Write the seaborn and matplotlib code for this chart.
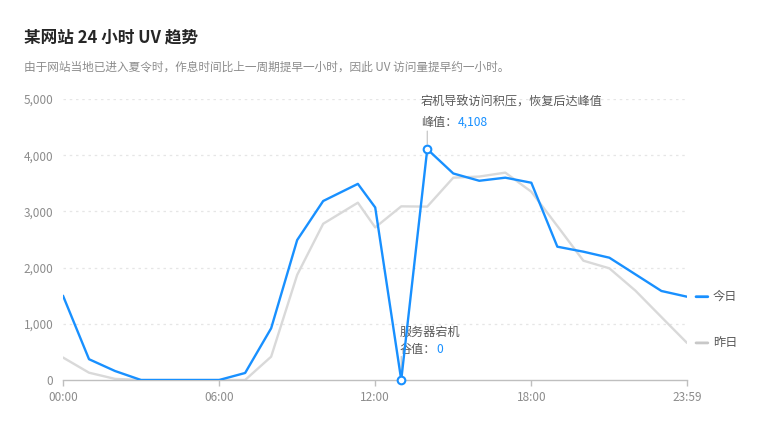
import numpy as np
import pandas as pd
import seaborn as sns
import matplotlib.pyplot as plt

# ---- data ----
times = ["00:00", "01:00", "02:00", "03:00", "04:00", "05:00", "06:00", "07:00",
         "08:00", "09:00", "10:00", "11:20", "12:00", "13:00", "14:00", "15:00",
         "16:00", "17:00", "18:00", "19:00", "20:00", "21:00", "22:00", "23:00", "23:59"]
today = [1500, 370, 160, 0, 0, 0, 0, 125, 920, 2490, 3185, 3490, 3070, 0, 4108,
         3675, 3545, 3600, 3510, 2372, 2283, 2176, 1880, 1584, 1482]
yesterday = [400, 130, 20, 0, 0, 0, 0, 0, 415, 1870, 2780, 3155, 2715, 3090, 3085,
             3600, 3620, 3690, 3350, 2740, 2123, 1987, 1590, 1120, 660]
series_names = ["今日", "昨日"]
x_ticks = ["00:00", "06:00", "12:00", "18:00", "23:59"]
y_ticks = [0, 1000, 2000, 3000, 4000, 5000]

title = "某网站 24 小时 UV 趋势"
subtitle = "由于网站当地已进入夏令时，作息时间比上一周期提早一小时，因此 UV 访问量提早约一小时。"
peak_note = "宕机导致访问积压，恢复后达峰值"
peak_label = "峰值："
low_note = "服务器宕机"
low_label = "谷值："

BLUE = "#1890ff"
GREY = "#d9d9d9"
TEXT = "#595959"
MUTED = "#8c8c8c"


def to_hours(t):
    h, m = t.split(":")
    return int(h) + int(m) / 60


hours = [to_hours(t) for t in times]
df = pd.concat([
    pd.DataFrame({"hour": hours, "uv": today, "series": series_names[0]}),
    pd.DataFrame({"hour": hours, "uv": yesterday, "series": series_names[1]}),
])

sns.set_theme(style="white")
plt.rcParams["font.family"] = ["Noto Sans CJK SC", "DejaVu Sans"]

fig = plt.figure(figsize=(7.6, 4.24), dpi=100)
ax = fig.add_axes([63 / 760, 1 - 380 / 424, 624 / 760, 281 / 424])

sns.lineplot(data=df, x="hour", y="uv", hue="series", hue_order=series_names[::-1],
             palette={series_names[0]: BLUE, series_names[1]: GREY},
             linewidth=1.7, legend=False, sort=False, ax=ax)
for ln in ax.lines:
    if ln.get_color() == BLUE:
        ln.set_zorder(4)

ax.set_xlim(hours[0], hours[-1])
ax.set_ylim(0, 5000)
ax.set_xticks([to_hours(t) for t in x_ticks])
ax.set_xticklabels(x_ticks)
ax.set_yticks(y_ticks)
ax.set_yticklabels([f"{v:,}" for v in y_ticks])
ax.set_xlabel("")
ax.set_ylabel("")

for v in y_ticks[1:]:
    ax.axhline(v, color="#e6e6e6", lw=0.9, ls=(0, (2, 3)), zorder=0)

for s in ["top", "right", "left"]:
    ax.spines[s].set_visible(False)
ax.spines["bottom"].set_color("#bfbfbf")
ax.spines["bottom"].set_linewidth(1)
ax.tick_params(axis="x", length=4, width=1, color="#bfbfbf", colors=MUTED,
               labelsize=8.5, pad=4, bottom=True)
ax.tick_params(axis="y", length=0, colors=MUTED, labelsize=8.5, pad=7)
for lbl in ax.get_xticklabels() + ax.get_yticklabels():
    lbl.set_color(MUTED)

# ---- annotations ----
i_peak = int(np.argmax(today))
i_low = i_peak - 1
for i in (i_peak, i_low):
    ax.plot(hours[i], today[i], marker="o", ms=5.5, mfc="white", mec=BLUE, mew=1.5,
            zorder=6, clip_on=False)

ax.annotate("", xy=(hours[i_peak], today[i_peak]), xytext=(0, 13), textcoords="offset points",
            arrowprops=dict(arrowstyle="-", color="#bfbfbf", lw=0.8, shrinkA=0, shrinkB=3.5))
ax.annotate(peak_note, xy=(hours[i_peak], today[i_peak]), xytext=(-4.5, 34),
            textcoords="offset points", va="center", ha="left", fontsize=8.7, color=TEXT)
t1 = ax.annotate(peak_label, xy=(hours[i_peak], today[i_peak]), xytext=(-4.5, 19.5),
                 textcoords="offset points", va="center", ha="left", fontsize=8.7, color=TEXT)
ax.annotate(f"{today[i_peak]:,}", xy=(1, 0.5), xycoords=t1, va="center", ha="left",
            fontsize=8.7, color=BLUE)

ax.annotate("", xy=(hours[i_low], today[i_low]), xytext=(0, 17), textcoords="offset points",
            arrowprops=dict(arrowstyle="-", color="#bfbfbf", lw=0.8, shrinkA=0, shrinkB=3.5))
ax.annotate(low_note, xy=(hours[i_low], today[i_low]), xytext=(-1, 34),
            textcoords="offset points", va="center", ha="left", fontsize=8.7, color=TEXT)
t2 = ax.annotate(low_label, xy=(hours[i_low], today[i_low]), xytext=(-1, 22),
                 textcoords="offset points", va="center", ha="left", fontsize=8.7, color=TEXT)
ax.annotate(f"{today[i_low]:,}", xy=(1, 0.5), xycoords=t2, va="center", ha="left",
            fontsize=8.7, color=BLUE)

# end-of-line labels
for name, vals, col in [(series_names[0], today, BLUE), (series_names[1], yesterday, "#c8c8c8")]:
    ax.annotate("", xy=(hours[-1], vals[-1]), xytext=(15, 0), textcoords="offset points",
                annotation_clip=False,
                arrowprops=dict(arrowstyle="-", color=col, lw=2, shrinkA=0, shrinkB=6.5))
    ax.annotate(name, xy=(hours[-1], vals[-1]), xytext=(18.5, 0), textcoords="offset points",
                va="center", ha="left", fontsize=8.8, color=TEXT, annotation_clip=False)

fig.text(24 / 760, 1 - 37 / 424, title, fontsize=12, fontweight="bold", color="#262626",
         va="center", ha="left")
fig.text(24 / 760, 1 - 67 / 424, subtitle, fontsize=8.4, color=MUTED, va="center", ha="left")

fig.savefig("out.png", dpi=100)
